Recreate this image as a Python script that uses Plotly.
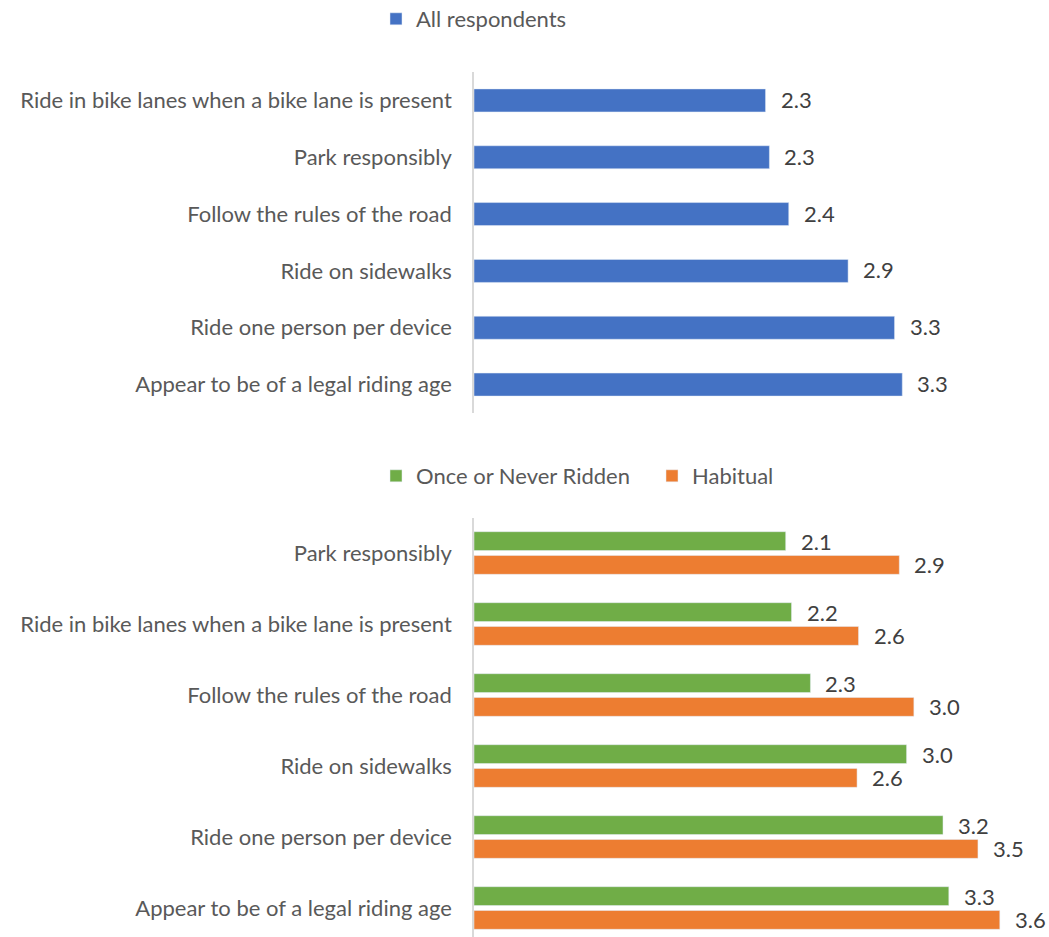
import plotly.graph_objects as go

W, H = 1049, 937

# ---- data ----
top_categories = [
    "Ride in bike lanes when a bike lane is present",
    "Park responsibly",
    "Follow the rules of the road",
    "Ride on sidewalks",
    "Ride one person per device",
    "Appear to be of a legal riding age",
]
top_values = [2.26, 2.29, 2.44, 2.90, 3.26, 3.32]

bottom_categories = [
    "Park responsibly",
    "Ride in bike lanes when a bike lane is present",
    "Follow the rules of the road",
    "Ride on sidewalks",
    "Ride one person per device",
    "Appear to be of a legal riding age",
]
once_values = [2.14, 2.18, 2.31, 2.97, 3.22, 3.26]
habitual_values = [2.92, 2.64, 3.02, 2.63, 3.46, 3.61]

BLUE, GREEN, ORANGE = "#4472C4", "#70AD47", "#ED7D31"
LABEL_COLOR = "#595959"
VALUE_COLOR = "#404040"
FONT = "Lato"
FS = 22
VFS = 22

fig = go.Figure()

fig.add_trace(go.Bar(
    x=top_values, y=top_categories, orientation="h", name="All respondents",
    marker=dict(color=BLUE), width=0.405, xaxis="x", yaxis="y",
    legend="legend", hoverinfo="skip",
))
fig.add_trace(go.Bar(
    x=once_values, y=bottom_categories, orientation="h", name="Once or Never Ridden",
    marker=dict(color=GREEN), width=0.265, offset=-0.30, xaxis="x2", yaxis="y2",
    legend="legend2", hoverinfo="skip",
))
fig.add_trace(go.Bar(
    x=habitual_values, y=bottom_categories, orientation="h", name="Habitual",
    marker=dict(color=ORANGE), width=0.265, offset=0.035, xaxis="x2", yaxis="y2",
    legend="legend2", hoverinfo="skip",
))

annotations = []
for c, v in zip(top_categories, top_values):
    annotations.append(dict(x=v, y=c, xref="x", yref="y", text=f"{v:.1f}",
                            showarrow=False, xanchor="left", xshift=13, yshift=1,
                            font=dict(size=VFS, color=VALUE_COLOR, family=FONT)))
for c, v in zip(bottom_categories, once_values):
    annotations.append(dict(x=v, y=c, xref="x2", yref="y2", text=f"{v:.1f}",
                            showarrow=False, xanchor="left", xshift=13, yshift=12,
                            font=dict(size=VFS, color=VALUE_COLOR, family=FONT)))
for c, v in zip(bottom_categories, habitual_values):
    annotations.append(dict(x=v, y=c, xref="x2", yref="y2", text=f"{v:.1f}",
                            showarrow=False, xanchor="left", xshift=13, yshift=-11,
                            font=dict(size=VFS, color=VALUE_COLOR, family=FONT)))

x0 = 474 / W
top_px_per_unit = 129.0
bot_px_per_unit = 145.65
plot_w = W - 474

fig.update_layout(
    width=W, height=H,
    margin=dict(l=0, r=0, t=0, b=0, autoexpand=False),
    paper_bgcolor="white", plot_bgcolor="white",
    font=dict(family=FONT, size=FS, color=LABEL_COLOR),
    barmode="overlay",
    showlegend=True,
    annotations=annotations,
    xaxis=dict(domain=[x0, 1.0], range=[0, plot_w / top_px_per_unit],
               visible=False, showgrid=False, zeroline=False, anchor="y"),
    yaxis=dict(domain=[(H - 413) / H, (H - 72) / H], type="category",
               categoryorder="array", categoryarray=top_categories,
               range=[5.5, -0.5], showgrid=False, zeroline=False,
               showline=True, linecolor="#D9D9D9", linewidth=1.5,
               ticks="", ticklabelstandoff=16, anchor="x",
               tickfont=dict(size=FS, color=LABEL_COLOR, family=FONT)),
    xaxis2=dict(domain=[x0, 1.0], range=[0, plot_w / bot_px_per_unit],
                visible=False, showgrid=False, zeroline=False, anchor="y2"),
    yaxis2=dict(domain=[0, (H - 517.5) / H], type="category",
                categoryorder="array", categoryarray=bottom_categories,
                range=[-0.5 + (H - 517.5) / 71.0, -0.5], showgrid=False, zeroline=False,
                showline=True, linecolor="#D9D9D9", linewidth=1.5,
                ticks="", ticklabelstandoff=16, anchor="x2",
                tickfont=dict(size=FS, color=LABEL_COLOR, family=FONT)),
    legend=dict(x=376 / W, y=1 - 19 / H, xanchor="left", yanchor="middle",
                orientation="h", bgcolor="rgba(0,0,0,0)",
                font=dict(size=FS, color=LABEL_COLOR, family=FONT)),
    legend2=dict(x=376 / W, y=1 - 476 / H, xanchor="left", yanchor="middle",
                 orientation="h", bgcolor="rgba(0,0,0,0)", entrywidth=231,
                 entrywidthmode="pixels",
                 font=dict(size=FS, color=LABEL_COLOR, family=FONT)),
)

fig.write_html("out.html")
